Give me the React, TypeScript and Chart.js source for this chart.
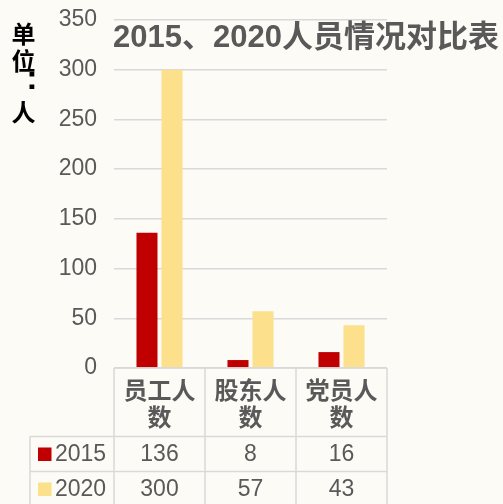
import React, { useEffect, useRef } from "react";
import { Chart, registerables } from "chart.js";

Chart.register(...registerables);

const categories: string[][] = [["员工人", "数"], ["股东人", "数"], ["党员人", "数"]];
const seriesLabels = ["2015", "2020"];
const values2015 = [136, 8, 16];
const values2020 = [300, 57, 43];
const seriesColors = ["#C00000", "#FCE08C"];
const yMin = 0;
const yMax = 350;
const yStep = 50;
const titleText = "2015、2020人员情况对比表";
const unitChars = ["单", "位", ":", "人"];

const GRAY = "#595959";
const LINE = "#D9D9D9";
const FONT = "'Liberation Sans', 'Noto Sans CJK SC', sans-serif";

const tablePlugin = {
  id: "dataTable",
  afterDraw(chart: any) {
    const { ctx, chartArea } = chart;
    const { left, right, bottom } = chartArea;
    const n = categories.length;
    const colW = (right - left) / n;
    const headerBottom = bottom + 68.5;
    const rowH = 35;
    const legendLeft = 30;
    const canvasH = chart.height;
    ctx.save();
    ctx.strokeStyle = LINE;
    ctx.lineWidth = 1.5;
    ctx.beginPath();
    ctx.moveTo(left, bottom);
    ctx.lineTo(right, bottom);
    for (let r = 0; r < seriesLabels.length; r++) {
      const y = headerBottom + r * rowH;
      ctx.moveTo(legendLeft, y);
      ctx.lineTo(right, y);
    }
    for (let i = 0; i <= n; i++) {
      const x = left + i * colW;
      ctx.moveTo(x, bottom);
      ctx.lineTo(x, canvasH + 5);
    }
    ctx.moveTo(legendLeft, headerBottom);
    ctx.lineTo(legendLeft, canvasH + 5);
    ctx.stroke();

    ctx.fillStyle = GRAY;
    ctx.textAlign = "center";
    ctx.textBaseline = "middle";
    ctx.font = `bold 24px 'Noto Sans CJK SC', sans-serif`;
    categories.forEach((lines, i) => {
      const cx = chart.scales.x.getPixelForValue(i);
      lines.forEach((t, li) => {
        ctx.fillText(t, cx, bottom + 22 + li * 27);
      });
    });

    const rows = [values2015, values2020];
    ctx.font = `23px ${FONT}`;
    rows.forEach((vals, r) => {
      const cy = headerBottom + r * rowH + rowH / 2;
      vals.forEach((v, i) => {
        const cx = chart.scales.x.getPixelForValue(i);
        ctx.fillStyle = GRAY;
        ctx.textAlign = "center";
        ctx.fillText(String(v), cx, cy + 1);
      });
      ctx.fillStyle = seriesColors[r];
      ctx.fillRect(38, cy - 6.5, 13.5, 13.5);
      ctx.fillStyle = GRAY;
      ctx.textAlign = "left";
      ctx.fillText(seriesLabels[r], 55, cy + 1);
    });

    ctx.fillStyle = GRAY;
    ctx.textAlign = "left";
    ctx.textBaseline = "middle";
    ctx.font = `bold 31px ${FONT}`;
    ctx.fillText(titleText, left - 1, 38);

    ctx.fillStyle = "#000000";
    ctx.textAlign = "center";
    ctx.textBaseline = "middle";
    ctx.font = `bold 24px 'Noto Sans CJK SC', sans-serif`;
    ctx.fillText(unitChars[0], 23.5, 34);
    ctx.fillText(unitChars[1], 23.5, 61);
    ctx.fillText(unitChars[3], 23.5, 112);
    ctx.font = `bold 34px 'Liberation Sans', sans-serif`;
    ctx.textBaseline = "alphabetic";
    const m = ctx.measureText(unitChars[2]);
    const desc = m.actualBoundingBoxDescent || 0;
    ctx.fillText(unitChars[2], 32, 89 - desc);
    ctx.restore();
  },
};

export default function App() {
  const ref = useRef<HTMLCanvasElement | null>(null);
  useEffect(() => {
    if (!ref.current) return;
    const chart = new Chart(ref.current, {
      type: "bar",
      data: {
        labels: categories.map((c) => c.join("")),
        datasets: [
          {
            label: seriesLabels[0],
            data: values2015,
            backgroundColor: seriesColors[0],
            categoryPercentage: 0.55,
            barPercentage: 0.84,
          },
          {
            label: seriesLabels[1],
            data: values2020,
            backgroundColor: seriesColors[1],
            categoryPercentage: 0.55,
            barPercentage: 0.84,
          },
        ],
      },
      options: {
        animation: false,
        responsive: false,
        maintainAspectRatio: false,
        layout: { padding: { left: 0, top: 20, right: 116, bottom: 136 } },
        plugins: {
          legend: { display: false },
          title: { display: false },
          tooltip: { enabled: false },
        },
        scales: {
          x: { display: false },
          y: {
            min: yMin,
            max: yMax,
            ticks: {
              stepSize: yStep,
              color: GRAY,
              padding: 17,
              font: { family: FONT, size: 23 },
            },
            grid: { color: LINE, lineWidth: 1.5, drawTicks: false },
            border: { display: false },
            afterFit: (scale: any) => {
              scale.width = 114;
              scale.paddingTop = 0;
              scale.paddingBottom = 0;
            },
          },
        },
      },
      plugins: [tablePlugin],
    });
    return () => chart.destroy();
  }, []);
  return (
    <div
      style={{
        position: "fixed",
        left: 0,
        top: 0,
        width: 503,
        height: 504,
        background: "#FDFBF6",
        overflow: "hidden",
      }}
    >
      <canvas ref={ref} width={503} height={504} style={{ display: "block" }} />
    </div>
  );
}
